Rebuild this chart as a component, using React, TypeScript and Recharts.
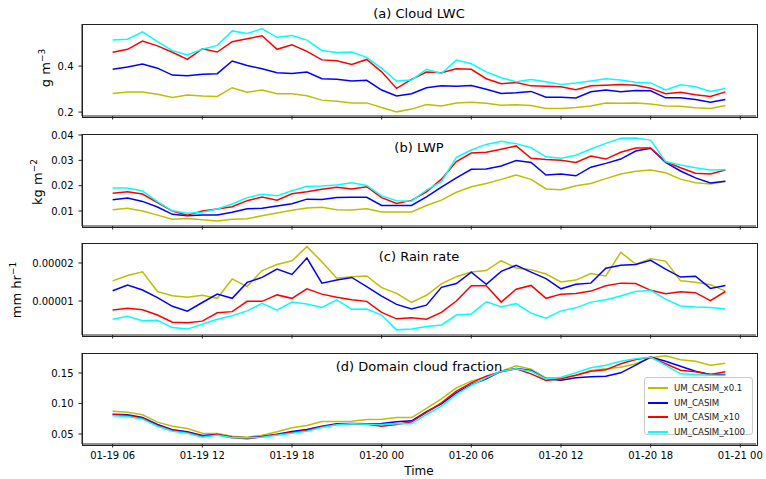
import React from "react";
import { LineChart, Line, XAxis, YAxis } from "recharts";

// hours since 01-19 00:00
const hours = [6, 7, 8, 9, 10, 11, 12, 13, 14, 15, 16, 17, 18, 19, 20, 21, 22, 23, 24, 25, 26, 27, 28, 29, 30, 31, 32, 33, 34, 35, 36, 37, 38, 39, 40, 41, 42, 43, 44, 45, 46, 47];
const timeTicks = [6, 12, 18, 24, 30, 36, 42, 48];

// (a) Cloud LWC, g m-3
const lwcX01 = [0.281, 0.287, 0.287, 0.278, 0.263, 0.274, 0.27, 0.268, 0.306, 0.286, 0.296, 0.28, 0.28, 0.271, 0.252, 0.247, 0.24, 0.24, 0.22, 0.201, 0.213, 0.233, 0.227, 0.24, 0.243, 0.238, 0.23, 0.232, 0.229, 0.216, 0.216, 0.22, 0.226, 0.239, 0.238, 0.24, 0.235, 0.226, 0.225, 0.219, 0.216, 0.229];
const lwcBase = [0.386, 0.396, 0.409, 0.391, 0.361, 0.358, 0.365, 0.367, 0.422, 0.403, 0.388, 0.371, 0.368, 0.374, 0.345, 0.343, 0.335, 0.338, 0.296, 0.27, 0.28, 0.306, 0.314, 0.312, 0.316, 0.299, 0.281, 0.284, 0.29, 0.265, 0.265, 0.261, 0.288, 0.296, 0.288, 0.294, 0.293, 0.262, 0.262, 0.255, 0.243, 0.255];
const lwcX10 = [0.46, 0.473, 0.509, 0.488, 0.46, 0.429, 0.475, 0.461, 0.506, 0.519, 0.532, 0.473, 0.493, 0.464, 0.427, 0.423, 0.407, 0.429, 0.375, 0.303, 0.342, 0.374, 0.371, 0.388, 0.386, 0.345, 0.323, 0.329, 0.314, 0.312, 0.31, 0.297, 0.314, 0.317, 0.32, 0.317, 0.304, 0.28, 0.286, 0.275, 0.268, 0.288];
const lwcX100 = [0.513, 0.517, 0.549, 0.506, 0.467, 0.448, 0.473, 0.49, 0.553, 0.542, 0.562, 0.525, 0.533, 0.513, 0.468, 0.459, 0.461, 0.438, 0.39, 0.335, 0.339, 0.386, 0.368, 0.426, 0.41, 0.375, 0.349, 0.332, 0.342, 0.332, 0.32, 0.326, 0.335, 0.345, 0.339, 0.33, 0.327, 0.296, 0.319, 0.31, 0.29, 0.303];

// (b) LWP, kg m-2
const lwpX01 = [0.0105, 0.0111, 0.01, 0.0084, 0.0068, 0.0071, 0.0066, 0.0061, 0.0068, 0.007, 0.0081, 0.0092, 0.0103, 0.0112, 0.0115, 0.0105, 0.0104, 0.0109, 0.0096, 0.0096, 0.0096, 0.0122, 0.0143, 0.0174, 0.0196, 0.0209, 0.0225, 0.0242, 0.0225, 0.0187, 0.0184, 0.02, 0.0209, 0.0228, 0.0246, 0.0257, 0.0262, 0.0251, 0.0226, 0.0212, 0.0207, 0.0218];
const lwpBase = [0.0145, 0.0151, 0.0138, 0.0116, 0.0087, 0.0081, 0.0084, 0.0084, 0.0095, 0.0109, 0.0111, 0.012, 0.0129, 0.0147, 0.0146, 0.0153, 0.0154, 0.0154, 0.0122, 0.0122, 0.0122, 0.0156, 0.0194, 0.0231, 0.0265, 0.0266, 0.0278, 0.0299, 0.0292, 0.0242, 0.0246, 0.0239, 0.0273, 0.0288, 0.0305, 0.0337, 0.0348, 0.0292, 0.0258, 0.0231, 0.0211, 0.0218];
const lwpX10 = [0.017, 0.0176, 0.0167, 0.0133, 0.01, 0.0084, 0.01, 0.0108, 0.0117, 0.0141, 0.0155, 0.0143, 0.0168, 0.0176, 0.0186, 0.0194, 0.0187, 0.0196, 0.0153, 0.013, 0.0142, 0.0176, 0.0226, 0.0295, 0.0329, 0.0332, 0.0344, 0.0357, 0.0308, 0.0303, 0.03, 0.0292, 0.0317, 0.0305, 0.0332, 0.0349, 0.0349, 0.0295, 0.0271, 0.0249, 0.0246, 0.0262];
const lwpX100 = [0.0191, 0.0191, 0.0179, 0.0137, 0.0101, 0.0091, 0.0095, 0.0108, 0.0128, 0.0153, 0.0166, 0.016, 0.018, 0.0198, 0.0199, 0.0203, 0.0212, 0.0201, 0.016, 0.0141, 0.0139, 0.0183, 0.0216, 0.0312, 0.0341, 0.0363, 0.0375, 0.0366, 0.035, 0.0314, 0.0308, 0.032, 0.0345, 0.0367, 0.0387, 0.0388, 0.038, 0.0295, 0.0282, 0.0271, 0.0262, 0.0263];

// (c) Rain rate, mm hr-1
const rainX01 = [1.53e-5, 1.67e-5, 1.77e-5, 1.25e-5, 1.14e-5, 1.1e-5, 1.15e-5, 1.07e-5, 1.58e-5, 1.38e-5, 1.8e-5, 1.96e-5, 2.06e-5, 2.43e-5, 2.03e-5, 1.6e-5, 1.64e-5, 1.66e-5, 1.35e-5, 1.2e-5, 0.96e-5, 1.15e-5, 1.45e-5, 1.64e-5, 1.76e-5, 1.8e-5, 2.06e-5, 1.87e-5, 1.82e-5, 1.71e-5, 1.5e-5, 1.55e-5, 1.72e-5, 1.66e-5, 2.28e-5, 1.97e-5, 2.11e-5, 2.05e-5, 1.53e-5, 1.49e-5, 1.43e-5, 1.26e-5];
const rainBase = [1.27e-5, 1.42e-5, 1.29e-5, 1.09e-5, 0.86e-5, 0.73e-5, 0.96e-5, 1.18e-5, 1.07e-5, 1.49e-5, 1.62e-5, 1.84e-5, 1.7e-5, 2.13e-5, 1.47e-5, 1.55e-5, 1.62e-5, 1.38e-5, 1.13e-5, 0.91e-5, 0.79e-5, 0.89e-5, 1.36e-5, 1.46e-5, 1.76e-5, 1.44e-5, 1.78e-5, 1.94e-5, 1.76e-5, 1.59e-5, 1.32e-5, 1.44e-5, 1.47e-5, 1.86e-5, 1.94e-5, 1.96e-5, 2.07e-5, 1.84e-5, 1.63e-5, 1.65e-5, 1.33e-5, 1.41e-5];
const rainX10 = [0.76e-5, 0.81e-5, 0.77e-5, 0.63e-5, 0.44e-5, 0.43e-5, 0.47e-5, 0.69e-5, 0.72e-5, 0.99e-5, 0.99e-5, 1.16e-5, 1.07e-5, 1.32e-5, 1.18e-5, 1.1e-5, 1.03e-5, 0.99e-5, 0.7e-5, 0.53e-5, 0.56e-5, 0.52e-5, 0.7e-5, 1.0e-5, 1.4e-5, 1.4e-5, 0.97e-5, 1.31e-5, 1.41e-5, 1.07e-5, 1.18e-5, 1.2e-5, 1.26e-5, 1.4e-5, 1.47e-5, 1.46e-5, 1.28e-5, 1.19e-5, 1.24e-5, 1.22e-5, 1.01e-5, 1.25e-5];
const rainX100 = [0.52e-5, 0.6e-5, 0.48e-5, 0.49e-5, 0.3e-5, 0.26e-5, 0.39e-5, 0.52e-5, 0.61e-5, 0.74e-5, 0.94e-5, 0.76e-5, 0.97e-5, 0.92e-5, 0.83e-5, 1.03e-5, 0.78e-5, 0.79e-5, 0.63e-5, 0.24e-5, 0.26e-5, 0.33e-5, 0.37e-5, 0.63e-5, 0.66e-5, 0.98e-5, 0.85e-5, 0.93e-5, 0.68e-5, 0.55e-5, 0.74e-5, 0.82e-5, 0.97e-5, 1.03e-5, 1.13e-5, 1.25e-5, 1.28e-5, 1.05e-5, 0.87e-5, 0.84e-5, 0.83e-5, 0.79e-5];

// (d) Domain cloud fraction
const cfX01 = [0.0874, 0.0857, 0.0815, 0.0694, 0.0628, 0.059, 0.0513, 0.0508, 0.0464, 0.0448, 0.0481, 0.0536, 0.0601, 0.0639, 0.0705, 0.0705, 0.071, 0.0738, 0.0743, 0.077, 0.077, 0.092, 0.1077, 0.1257, 0.1366, 0.1437, 0.153, 0.1618, 0.1562, 0.1421, 0.1421, 0.1464, 0.1541, 0.1568, 0.1595, 0.1651, 0.1749, 0.1782, 0.1716, 0.1694, 0.1628, 0.1661];
const cfBase = [0.0825, 0.0815, 0.077, 0.0656, 0.0569, 0.0536, 0.0475, 0.0492, 0.0448, 0.0437, 0.0459, 0.0497, 0.0541, 0.0574, 0.0628, 0.0667, 0.0672, 0.0667, 0.0672, 0.07, 0.0716, 0.0865, 0.0995, 0.1175, 0.1311, 0.1404, 0.153, 0.1574, 0.1541, 0.1404, 0.1382, 0.1421, 0.1437, 0.1448, 0.1503, 0.163, 0.176, 0.1694, 0.1612, 0.153, 0.1475, 0.1475];
const cfX10 = [0.0815, 0.0803, 0.0759, 0.0639, 0.0557, 0.0525, 0.0464, 0.0492, 0.0437, 0.0421, 0.0454, 0.0492, 0.0525, 0.0557, 0.0618, 0.0656, 0.0667, 0.0661, 0.0628, 0.0656, 0.07, 0.0855, 0.1011, 0.1202, 0.1339, 0.1448, 0.1519, 0.1568, 0.1486, 0.1377, 0.1404, 0.1464, 0.153, 0.1552, 0.1651, 0.1721, 0.1759, 0.1651, 0.1546, 0.1519, 0.1475, 0.1519];
const cfX100 = [0.0798, 0.0787, 0.0743, 0.0628, 0.0546, 0.0513, 0.0448, 0.0481, 0.0437, 0.0437, 0.0448, 0.0481, 0.0513, 0.0546, 0.0607, 0.0651, 0.0667, 0.0661, 0.0656, 0.0667, 0.0667, 0.082, 0.0956, 0.1148, 0.13, 0.1421, 0.153, 0.1568, 0.153, 0.1404, 0.1431, 0.1503, 0.1585, 0.1628, 0.1694, 0.1733, 0.1759, 0.1628, 0.1487, 0.1475, 0.1464, 0.1464];

const SERIES = [
  { key: "x01", name: "UM_CASIM_x0.1", color: "#bfbf00" },
  { key: "base", name: "UM_CASIM", color: "#0000ff" },
  { key: "x10", name: "UM_CASIM_x10", color: "#ff0000" },
  { key: "x100", name: "UM_CASIM_x100", color: "#00ffff" },
];

const build = (a: number[], b: number[], c: number[], d: number[]) =>
  hours.map((h, i) => ({ h, x01: a[i], base: b[i], x10: c[i], x100: d[i] }));

const FONT = "DejaVu Sans, sans-serif";
const AXIS = "#222";
const X_DOMAIN = [3.95, 49.05];
const PLOT_LEFT = 82;
const PLOT_RIGHT = 756;

const fmtTime = (h: number) => {
  const day = 19 + Math.floor(h / 24);
  const hr = h % 24;
  return `01-${day} ${hr < 10 ? "0" + hr : hr}`;
};

type PanelProps = {
  data: any[];
  top: number;
  bottom: number;
  domain: number[];
  ticks: number[];
  fmt: (v: number) => string;
  showX?: boolean;
};

function Panel({ data, top, bottom, domain, ticks, fmt, showX }: PanelProps) {
  const xH = 20;
  return (
    <>
      <div style={{ position: "absolute", left: 0, top: 0 }}>
        <LineChart
          width={766}
          height={479}
          data={data}
          margin={{ top, right: 766 - PLOT_RIGHT, left: 0, bottom: 479 - bottom - xH }}
        >
          <XAxis
            dataKey="h"
            type="number"
            domain={X_DOMAIN}
            ticks={timeTicks}
            interval={0}
            allowDataOverflow
            height={xH}
            tickSize={3.5}
            tickMargin={4}
            stroke={AXIS}
            tickFormatter={fmtTime}
            tick={showX ? { fontSize: 10, fill: "#000", fontFamily: FONT } : () => <g />}
          />
          <YAxis
            type="number"
            domain={domain}
            ticks={ticks}
            interval={0}
            allowDataOverflow
            width={PLOT_LEFT}
            tickSize={3.5}
            tickMargin={5}
            stroke={AXIS}
            tickFormatter={fmt}
            tick={{ fontSize: 10, fill: "#000", fontFamily: FONT }}
          />
          {SERIES.map((s) => (
            <Line
              key={s.key}
              dataKey={s.key}
              type="linear"
              stroke={s.color}
              strokeWidth={1.5}
              dot={false}
              activeDot={false}
              isAnimationActive={false}
            />
          ))}
        </LineChart>
      </div>
      {/* panel frame */}
      <div
        style={{
          position: "absolute",
          left: PLOT_LEFT - 0.5,
          top: top - 0.5,
          width: PLOT_RIGHT - PLOT_LEFT,
          height: bottom - top,
          border: `1px solid ${AXIS}`,
          boxSizing: "content-box",
          pointerEvents: "none",
        }}
      />
    </>
  );
}

const Title = ({ text, y }: { text: string; y: number }) => (
  <div
    style={{
      position: "absolute",
      left: 219,
      width: 400,
      top: y - 8,
      height: 16,
      lineHeight: "16px",
      textAlign: "center",
      fontSize: 13,
      color: "#000",
    }}
  >
    {text}
  </div>
);

const YLabel = ({ base, sup, x, y }: { base: string; sup: string; x: number; y: number }) => (
  <div
    style={{
      position: "absolute",
      left: x,
      top: y,
      transform: "translate(-50%, -50%) rotate(-90deg)",
      whiteSpace: "nowrap",
      fontSize: 13,
      color: "#000",
    }}
  >
    {base}
    <sup style={{ fontSize: 9 }}>{sup}</sup>
  </div>
);

export default function App() {
  const lwc = build(lwcX01, lwcBase, lwcX10, lwcX100);
  const lwp = build(lwpX01, lwpBase, lwpX10, lwpX100);
  const rain = build(rainX01, rainBase, rainX10, rainX100);
  const cf = build(cfX01, cfBase, cfX10, cfX100);

  return (
    <div
      style={{
        position: "absolute",
        left: 0,
        top: 0,
        width: 766,
        height: 479,
        background: "#fff",
        fontFamily: FONT,
        overflow: "hidden",
      }}
    >
      <Panel data={lwc} top={24} bottom={116} domain={[0.183, 0.583]} ticks={[0.2, 0.4]} fmt={(v) => v.toFixed(1)} />
      <Panel data={lwp} top={134} bottom={226} domain={[0.0041, 0.0404]} ticks={[0.01, 0.02, 0.03, 0.04]} fmt={(v) => v.toFixed(2)} />
      <Panel data={rain} top={243} bottom={335} domain={[0.105e-5, 2.526e-5]} ticks={[1e-5, 2e-5]} fmt={(v) => v.toFixed(5)} />
      <Panel data={cf} top={353} bottom={444} domain={[0.0336, 0.1828]} ticks={[0.05, 0.1, 0.15]} fmt={(v) => v.toFixed(2)} showX />

      <Title text="(a) Cloud LWC" y={14} />
      <Title text="(b) LWP" y={148} />
      <Title text="(c) Rain rate" y={257} />
      <Title text="(d) Domain cloud fraction" y={367} />

      <YLabel base="g m" sup="−3" x={45} y={68} />
      <YLabel base="kg m" sup="−2" x={37} y={182} />
      <YLabel base="mm hr" sup="−1" x={16} y={290} />

      <div
        style={{
          position: "absolute",
          left: 219,
          width: 400,
          top: 463,
          lineHeight: "16px",
          textAlign: "center",
          fontSize: 12,
          color: "#000",
        }}
      >
        Time
      </div>

      <div
        style={{
          position: "absolute",
          left: 644,
          top: 377,
          width: 109,
          height: 58,
          background: "rgba(255,255,255,0.85)",
          border: "1px solid #ccc",
          borderRadius: 3,
          paddingTop: 3,
          boxSizing: "border-box",
        }}
      >
        {SERIES.map((s) => (
          <div key={s.key} style={{ display: "flex", alignItems: "center", height: 14.5 }}>
            <div style={{ marginLeft: 3, width: 20, height: 2, background: s.color }} />
            <span style={{ marginLeft: 6, fontSize: 8.6, color: "#222", whiteSpace: "nowrap" }}>{s.name}</span>
          </div>
        ))}
      </div>
    </div>
  );
}
